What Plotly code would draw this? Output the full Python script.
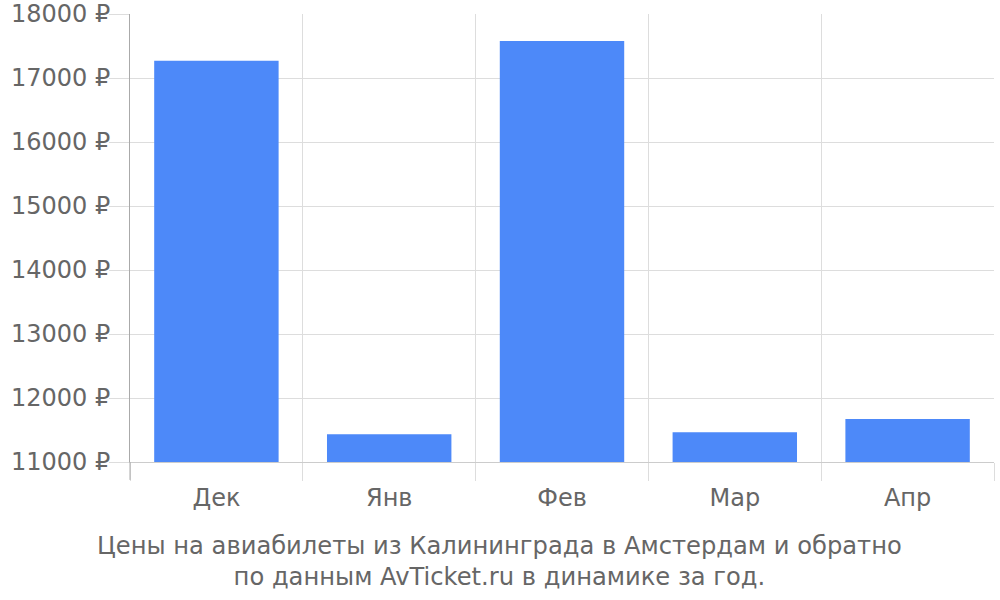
import plotly.graph_objects as go

months = ["Дек", "Янв", "Фев", "Мар", "Апр"]
prices = [17270, 11435, 17580, 11465, 11670]
y_ticks = [11000, 12000, 13000, 14000, 15000, 16000, 17000, 18000]
y_labels = [f"{v} ₽" for v in y_ticks]
caption = ("Цены на авиабилеты из Калининграда в Амстердам и обратно"
           "<br>по данным AvTicket.ru в динамике за год.")

fig = go.Figure(
    go.Bar(x=months, y=prices, marker_color="#4d89f9", marker_line_width=0)
)

fig.update_layout(
    width=1000,
    height=600,
    margin=dict(l=130, r=6, t=14, b=138),
    plot_bgcolor="white",
    paper_bgcolor="white",
    bargap=0.28,
    font=dict(family="DejaVu Sans", size=24, color="#666666"),
    showlegend=False,
)
fig.update_xaxes(
    type="category",
    automargin=False,
    tickson="boundaries",
    ticks="outside",
    ticklen=18,
    tickcolor="#dddddd",
    tickfont=dict(size=24),
    ticklabelstandoff=14,
    showgrid=True,
    gridcolor="#dddddd",
    showline=True,
    linecolor="#cccccc",
)
fig.update_yaxes(
    automargin=False,
    range=[11000, 18000],
    tickvals=y_ticks,
    ticktext=y_labels,
    ticks="outside",
    ticklen=20,
    tickcolor="#dddddd",
    tickfont=dict(size=24),
    ticklabelstandoff=-6,
    ticklabeloverflow="allow",
    gridcolor="#dddddd",
    showline=True,
    linecolor="#aaaaaa",
    zeroline=False,
)
# left boundary tick in axis colour
fig.add_shape(
    type="line", xref="paper", yref="paper", x0=0, x1=0, y0=0, y1=-0.04,
    line=dict(color="#aaaaaa", width=1),
)
fig.add_annotation(
    text=caption, xref="paper", yref="paper", x=0.428, y=-0.221,
    xanchor="center", yanchor="middle", showarrow=False,
    font=dict(size=24.2, color="#666666"),
)

fig.write_html(
    "out.html",
    config={"displayModeBar": False},
    post_script="document.body.style.margin='0';",
)
